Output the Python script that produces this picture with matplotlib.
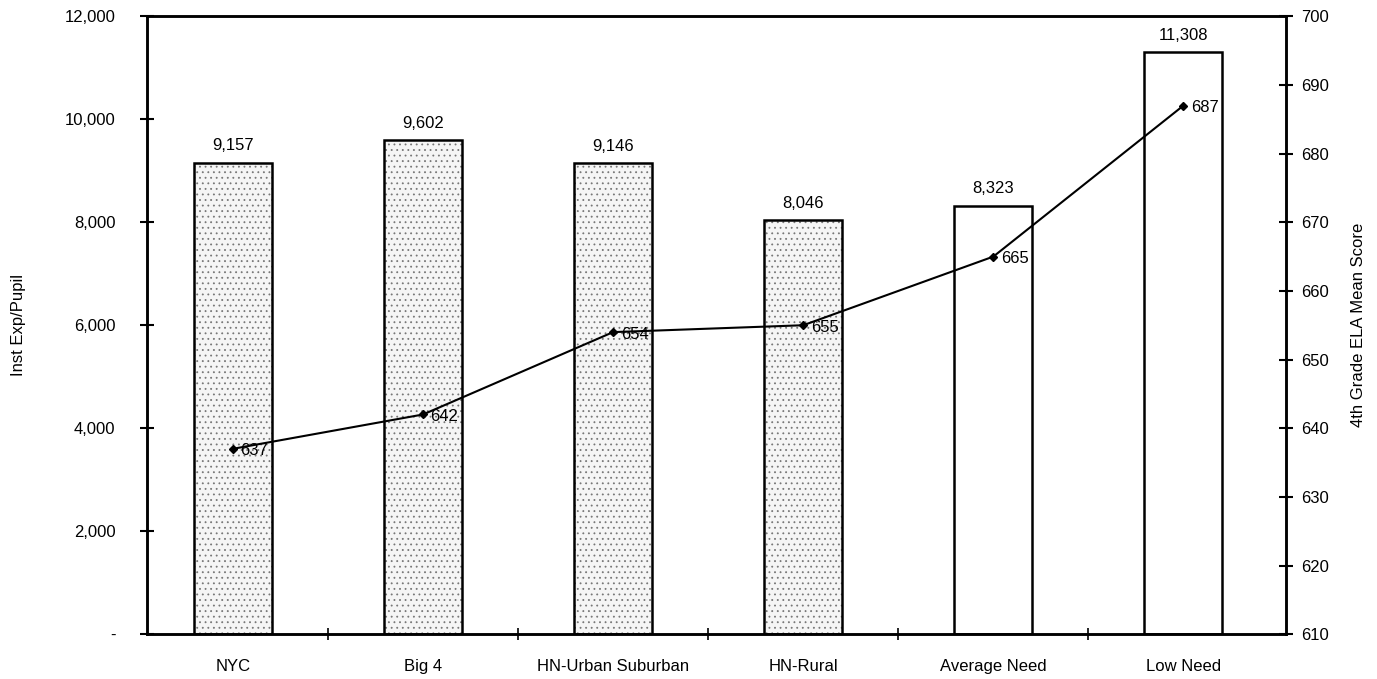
import matplotlib.pyplot as plt
import matplotlib.ticker as mticker
import numpy as np

plt.rcParams['font.family'] = ['Liberation Sans', 'DejaVu Sans']
plt.rcParams['hatch.linewidth'] = 0.6

categories = ['NYC', 'Big 4', 'HN-Urban Suburban', 'HN-Rural', 'Average Need', 'Low Need']
exp_per_pupil = [9157, 9602, 9146, 8046, 8323, 11308]
ela_scores = [637, 642, 654, 655, 665, 687]
shaded = [True, True, True, True, False, False]

fig = plt.figure(figsize=(13.77, 6.79), dpi=100)
ax = fig.add_axes([0.107, 0.066, 0.827, 0.910])
x = np.arange(len(categories))

for i, v in enumerate(exp_per_pupil):
    if shaded[i]:
        ax.bar(x[i], v, width=0.41, facecolor='#f5f5f5', edgecolor='#777777',
               hatch='...', linewidth=0)
    ax.bar(x[i], v, width=0.41, facecolor='none', edgecolor='black', linewidth=1.8)
    ax.text(x[i], v + 180, f'{v:,}', ha='center', va='bottom', fontsize=12)

ax.set_xlim(-0.45, 5.54)
ax.set_ylim(0, 12000)
ax.set_yticks(range(0, 12001, 2000))
ax.yaxis.set_major_formatter(mticker.FuncFormatter(lambda v, p: '-' if v == 0 else f'{int(v):,}'))
ax.set_xticks(x)
ax.set_xticklabels(categories, fontsize=12)
ax.set_xticks(np.arange(0.5, 5.5, 1), minor=True)
ax.tick_params(axis='x', which='major', length=0, pad=18)
ax.tick_params(axis='x', which='minor', length=8, width=1.2, direction='inout')
ax.tick_params(axis='y', length=10, width=1.5, direction='inout', labelsize=12, pad=18)
ax.set_ylabel('Inst Exp/Pupil', fontsize=12, labelpad=28)
for s in ax.spines.values():
    s.set_linewidth(1.8)

ax2 = ax.twinx()
ax2.plot(x, ela_scores, color='black', linewidth=1.5, marker='D', markersize=4)
for i, v in enumerate(ela_scores):
    ax2.text(x[i] + 0.04, v - 0.3, str(v), ha='left', va='center', fontsize=12)
ax2.set_ylim(610, 700)
ax2.set_yticks(range(610, 701, 10))
ax2.tick_params(axis='y', length=10, width=1.5, direction='inout', labelsize=12, pad=6)
ax2.set_ylabel('4th Grade ELA Mean Score', fontsize=12, labelpad=16)
for s in ax2.spines.values():
    s.set_linewidth(1.8)

fig.savefig('out.png', dpi=100)
